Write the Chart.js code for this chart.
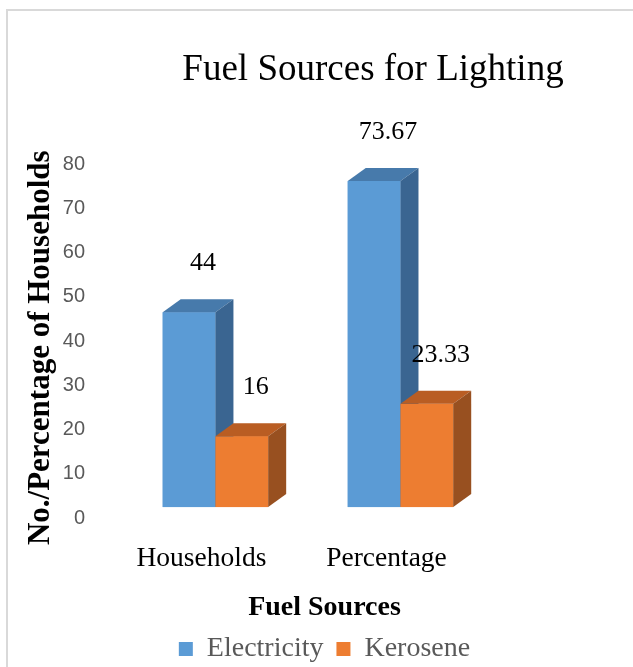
<!DOCTYPE html>
<html>
<head>
<meta charset="utf-8">
<title>Fuel Sources for Lighting</title>
<script src="https://cdn.jsdelivr.net/npm/chart.js@4.4.1/dist/chart.umd.min.js"></script>
<style>
  html,body{margin:0;padding:0;background:#fff;}
  #wrap{width:633px;height:667px;position:relative;}
</style>
</head>
<body>
<div id="wrap"><canvas id="chart"></canvas></div>
<script>
// ====== DATA ======
const categories = ['Households', 'Percentage'];
const electricity = [44, 73.67];
const kerosene = [16, 23.33];
const yTicks = [0, 10, 20, 30, 40, 50, 60, 70, 80];

// ====== STYLE ======
const SERIF = "'Liberation Serif', 'Times New Roman', serif";
const SANS = "'Liberation Sans', Arial, sans-serif";
const DEPTH_X = 18, DEPTH_Y = -13;   // fake 3D depth
const faces = [
  {front: '#5B9BD5', top: '#477AAB', side: '#3A6591'},
  {front: '#ED7D31', top: '#B95D23', side: '#985020'}
];

// border of the chart frame (left + top only, like the cropped picture)
const frame = {
  id: 'frame',
  beforeDraw(chart){
    const ctx = chart.ctx;
    ctx.save();
    ctx.fillStyle = '#fff';
    ctx.fillRect(0, 0, chart.width, chart.height);
    ctx.strokeStyle = '#d9d9d9';
    ctx.lineWidth = 2;
    ctx.beginPath();
    ctx.moveTo(7, chart.height);
    ctx.lineTo(7, 10);
    ctx.lineTo(chart.width, 10);
    ctx.stroke();
    ctx.restore();
  }
};

// draws front/top/side faces and the value labels
const bar3d = {
  id: 'bar3d',
  afterDatasetsDraw(chart){
    const ctx = chart.ctx;
    ctx.save();
    chart.data.datasets.forEach((ds, di) => {
      const c = faces[di];
      chart.getDatasetMeta(di).data.forEach(bar => {
        const {x, y, base, width} = bar.getProps(['x', 'y', 'base', 'width'], true);
        const l = x - width / 2, r = x + width / 2;
        ctx.fillStyle = c.front;
        ctx.fillRect(l, y, width, base - y);
        ctx.fillStyle = c.top;
        ctx.beginPath();
        ctx.moveTo(l, y); ctx.lineTo(l + DEPTH_X, y + DEPTH_Y);
        ctx.lineTo(r + DEPTH_X, y + DEPTH_Y); ctx.lineTo(r, y);
        ctx.closePath(); ctx.fill();
        ctx.fillStyle = c.side;
        ctx.beginPath();
        ctx.moveTo(r, y); ctx.lineTo(r + DEPTH_X, y + DEPTH_Y);
        ctx.lineTo(r + DEPTH_X, base + DEPTH_Y); ctx.lineTo(r, base);
        ctx.closePath(); ctx.fill();
      });
    });
    // value labels
    ctx.fillStyle = '#000';
    ctx.font = '26px ' + SERIF;
    ctx.textAlign = 'center';
    ctx.textBaseline = 'middle';
    chart.data.datasets.forEach((ds, di) => {
      chart.getDatasetMeta(di).data.forEach((bar, i) => {
        ctx.fillText(String(ds.data[i].y), bar.x + 14, bar.y - 49);
      });
    });
    ctx.restore();
  }
};

const toPoints = arr => arr.map((v, i) => ({x: i, y: v}));

new Chart(document.getElementById('chart'), {
  type: 'bar',
  data: {
    datasets: [
      {label: 'Electricity', data: toPoints(electricity), backgroundColor: faces[0].front, borderWidth: 0},
      {label: 'Kerosene', data: toPoints(kerosene), backgroundColor: faces[1].front, borderWidth: 0}
    ]
  },
  options: {
    responsive: true,
    maintainAspectRatio: false,
    animation: false,
    events: [],
    categoryPercentage: 0.57,
    barPercentage: 1,
    layout: {padding: {left: 25, right: 9, top: 0, bottom: 0}},
    scales: {
      x: {
        type: 'linear',
        offset: false,
        min: -0.505,
        max: 2.208,
        grid: {display: false, drawTicks: false},
        border: {display: false},
        afterBuildTicks: s => { s.ticks = categories.map((c, i) => ({value: i})); },
        ticks: {
          color: '#000',
          font: {family: SERIF, size: 27.5},
          padding: 0,
          labelOffset: -14,
          maxRotation: 0,
          autoSkip: false,
          callback: v => categories[v]
        }
      },
      y: {
        min: -8,
        max: 80,
        grid: {display: false, drawTicks: false},
        border: {display: false},
        afterBuildTicks: s => { s.ticks = yTicks.map(v => ({value: v})); },
        afterFit: s => { s.width = 97; },
        ticks: {
          color: '#595959',
          font: {family: SANS, size: 20},
          padding: 37,
          labelOffset: 11
        },
        title: {
          display: true,
          text: 'No./Percentage of Households',
          color: '#000',
          font: {family: SERIF, size: 31, weight: 'bold', lineHeight: 1},
          padding: 0
        }
      }
    },
    plugins: {
      tooltip: {enabled: false},
      title: {
        display: true,
        text: 'Fuel Sources for Lighting',
        fullSize: false,
        color: '#000',
        font: {family: SERIF, size: 37, weight: 'normal'},
        padding: {top: 48.3, bottom: 60.3}
      },
      legend: {
        position: 'bottom',
        maxHeight: 91.5,
        labels: {
          boxWidth: 14,
          boxHeight: 14,
          padding: 13,
          color: '#595959',
          font: {family: SERIF, size: 28}
        },
        title: {
          display: true,
          text: 'Fuel Sources',
          color: '#000',
          font: {family: SERIF, size: 28, weight: 'bold', lineHeight: 1},
          padding: {top: 18.5, bottom: 0}
        }
      }
    }
  },
  plugins: [frame, bar3d]
});
</script>
</body>
</html>
